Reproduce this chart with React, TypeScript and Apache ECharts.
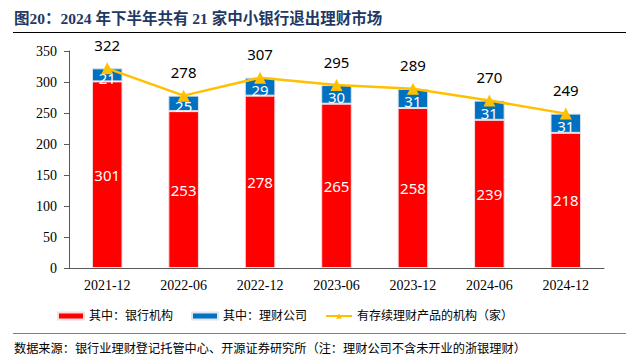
import React, { useEffect, useRef } from "react";
import * as echarts from "echarts";

const categories = ["2021-12", "2022-06", "2022-12", "2023-06", "2023-12", "2024-06", "2024-12"];
const bankValues = [301, 253, 278, 265, 258, 239, 218];
const wmcValues = [21, 25, 29, 30, 31, 31, 31];
const totalValues = [322, 278, 307, 295, 289, 270, 249];
const yTicks = [0, 50, 100, 150, 200, 250, 300, 350];

const serif = "'Liberation Serif', 'Times New Roman', 'Noto Sans CJK SC', serif";
const sans = "'Noto Sans', 'Liberation Sans', sans-serif";
const cjk = "'Liberation Serif', 'Noto Sans CJK SC', serif";

export default function App() {
  const ref = useRef<HTMLDivElement>(null);
  useEffect(() => {
    document.body.style.margin = "0";
    const chart = echarts.init(ref.current!, null, { renderer: "svg" });
    chart.setOption({
      animation: false,
      backgroundColor: "#ffffff",
      grid: { left: 69, right: 22, top: 51, bottom: 94 },
      xAxis: {
        type: "category",
        data: categories,
        axisLine: { lineStyle: { color: "#595959" } },
        axisTick: { show: false },
        axisLabel: { color: "#000", fontFamily: serif, fontSize: 14, margin: 10 },
      },
      yAxis: {
        type: "value",
        min: yTicks[0],
        max: yTicks[yTicks.length - 1],
        interval: 50,
        axisLine: { show: true, lineStyle: { color: "#595959" } },
        axisTick: { show: true, inside: false, length: 5, lineStyle: { color: "#595959" } },
        splitLine: { show: false },
        axisLabel: { color: "#000", fontFamily: serif, fontSize: 14, margin: 12 },
      },
      legend: {
        left: 52,
        top: 305,
        itemGap: 18,
        itemWidth: 26,
        itemHeight: 7,
        textStyle: { fontFamily: cjk, fontSize: 12, color: "#000" },
        data: [
          { name: "其中：银行机构", icon: "rect" },
          { name: "其中：理财公司", icon: "rect" },
          { name: "有存续理财产品的机构（家）" },
        ],
      },
      series: [
        {
          name: "其中：银行机构",
          type: "bar",
          stack: "a",
          barWidth: "40%",
          data: bankValues,
          itemStyle: { color: "#FF0000", borderColor: "#f4dede", borderWidth: 1 },
          label: { show: true, position: "inside", color: "#fff", fontFamily: sans, fontSize: 15 },
        },
        {
          name: "其中：理财公司",
          type: "bar",
          stack: "a",
          barWidth: "40%",
          data: wmcValues,
          itemStyle: { color: "#0070C0", borderColor: "#dbe6f0", borderWidth: 1 },
          label: { show: true, position: "inside", color: "#fff", fontFamily: sans, fontSize: 15, offset: [0, 3] },
        },
        {
          name: "有存续理财产品的机构（家）",
          type: "line",
          data: totalValues,
          symbol: "triangle",
          symbolSize: 12,
          lineStyle: { color: "#FFC000", width: 2.5 },
          itemStyle: { color: "#FFC000" },
          label: { show: true, position: "top", distance: 10, color: "#000", fontFamily: sans, fontSize: 15 },
          z: 5,
        },
      ],
      graphic: [
        {
          type: "text",
          left: 14,
          top: 11,
          style: {
            text: "图20：2024 年下半年共有 21 家中小银行退出理财市场",
            fontFamily: cjk,
            fontWeight: "bold",
            fontSize: 15.5,
            fill: "#1F3864",
          },
        },
        { type: "line", shape: { x1: 13, y1: 32.5, x2: 626, y2: 32.5 }, style: { stroke: "#000", lineWidth: 1 } },
        { type: "line", shape: { x1: 13, y1: 333.5, x2: 626, y2: 333.5 }, style: { stroke: "#7f7f7f", lineWidth: 1 } },
        {
          type: "text",
          left: 14,
          top: 343,
          style: {
            text: "数据来源：银行业理财登记托管中心、开源证券研究所（注：理财公司不含未开业的浙银理财）",
            fontFamily: cjk,
            fontSize: 12.2,
            fill: "#000",
          },
        },
      ],
    });
    return () => chart.dispose();
  }, []);
  return <div ref={ref} style={{ width: 626, height: 362, position: "absolute", left: 0, top: 0 }} />;
}
